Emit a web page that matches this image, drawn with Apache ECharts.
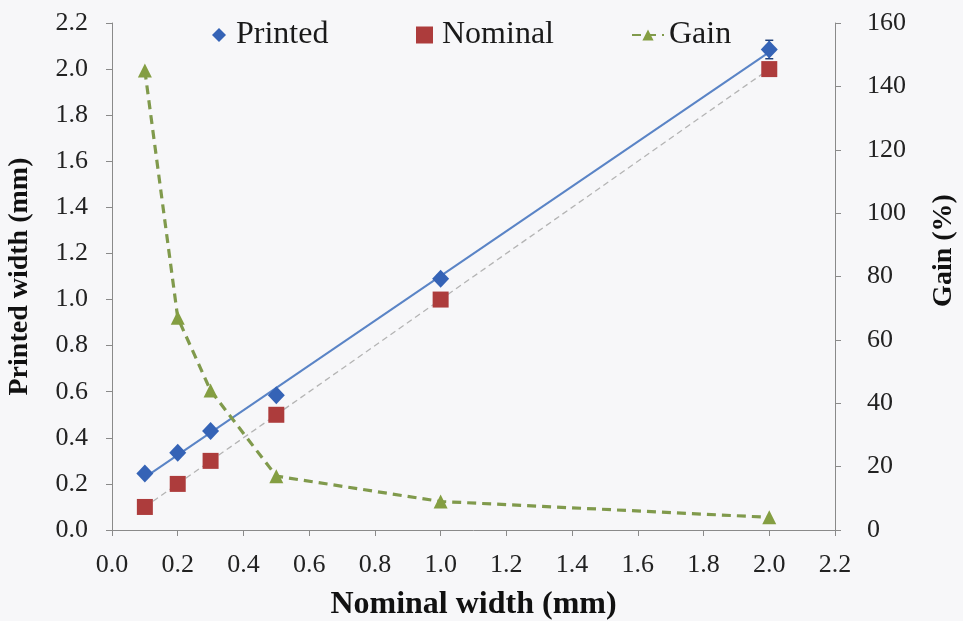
<!DOCTYPE html>
<html>
<head>
<meta charset="utf-8">
<script src="https://cdn.jsdelivr.net/npm/echarts@6/dist/echarts.min.js"></script>
<style>
  html, body { margin: 0; padding: 0; background: #f7f7f9; }
  #chart { width: 963px; height: 621px; }
</style>
</head>
<body>
<div id="chart"></div>
<script>
// Measured line widths: nominal vs printed, with the relative gain
const nominalWidths = [0.1, 0.2, 0.3, 0.5, 1.0, 2.0];
const printedWidths = [0.245, 0.335, 0.43, 0.585, 1.09, 2.085];
const printedError  = [0.01, 0.01, 0.012, 0.012, 0.015, 0.04];
const gainPercent   = [145, 67, 44, 17, 9, 4];

const xTickLabels = ['0.0','0.2','0.4','0.6','0.8','1.0','1.2','1.4','1.6','1.8','2.0','2.2'];
const gainTickLabels = ['0','20','40','60','80','100','120','140','160'];

const FONT = '"Liberation Serif", "Times New Roman", serif';

// least-squares linear trend through (xs, ys), drawn over the data's x span
function linearTrend(xs, ys) {
  const n = xs.length;
  const mx = xs.reduce((a, b) => a + b, 0) / n;
  const my = ys.reduce((a, b) => a + b, 0) / n;
  let sxy = 0, sxx = 0;
  for (let i = 0; i < n; i++) {
    sxy += (xs[i] - mx) * (ys[i] - my);
    sxx += (xs[i] - mx) * (xs[i] - mx);
  }
  const slope = sxy / sxx, icpt = my - slope * mx;
  const x0 = Math.min(...xs), x1 = Math.max(...xs);
  return [[x0, icpt + slope * x0], [x1, icpt + slope * x1]];
}

const printedPts = nominalWidths.map((x, i) => [x, printedWidths[i]]);
const nominalPts = nominalWidths.map(x => [x, x]);
const gainPts = nominalWidths.map((x, i) => [x, gainPercent[i]]);
const errorPts = nominalWidths.map((x, i) => [x, printedWidths[i] - printedError[i], printedWidths[i] + printedError[i]]);

const chart = echarts.init(document.getElementById('chart'));

const legendText = { fontFamily: FONT, fontSize: 32, color: '#1a1a1a' };
const axisColor = '#8a8a8a';
const tickFont = { fontFamily: FONT, fontSize: 26, color: '#222' };

chart.setOption({
  backgroundColor: '#f7f7f9',
  animation: false,
  grid: { left: 112, right: 128, top: 23, bottom: 91, containLabel: false, outerBoundsMode: 'none' },
  legend: [
    { data: ['Printed'], left: 207, top: 14, icon: 'diamond', itemWidth: 14, itemHeight: 14,
      textStyle: Object.assign({ padding: [0, 0, 0, 5] }, legendText) },
    { data: ['Nominal'], left: 411, top: 14, icon: 'rect', itemWidth: 17, itemHeight: 17,
      textStyle: Object.assign({ padding: [0, 0, 0, 4] }, legendText) },
    { data: ['Gain'], left: 626, top: 14, itemWidth: 32, itemHeight: 14,
      textStyle: Object.assign({ padding: [0, 0, 0, 0] }, legendText) }
  ],
  xAxis: {
    type: 'value', min: 0, max: 2.2, interval: 0.2,
    name: 'Nominal width (mm)', nameLocation: 'middle', nameGap: 59,
    nameTextStyle: { fontFamily: FONT, fontSize: 32, fontWeight: 'bold', color: '#111' },
    axisLine: { show: true, lineStyle: { color: axisColor, width: 1 } },
    axisTick: { show: true, length: 6, lineStyle: { color: axisColor } },
    splitLine: { show: false },
    axisLabel: Object.assign({
      margin: 22,
      formatter: v => xTickLabels[Math.round(v / 0.2)]
    }, tickFont)
  },
  yAxis: [
    {
      type: 'value', min: 0, max: 2.2, interval: 0.2, position: 'left',
      name: 'Printed width (mm)', nameLocation: 'middle', nameGap: 78, nameRotate: 90,
      nameTextStyle: { fontFamily: FONT, fontSize: 28, fontWeight: 'bold', color: '#111' },
      axisLine: { show: true, lineStyle: { color: axisColor, width: 1 } },
      axisTick: { show: true, length: 6, lineStyle: { color: axisColor } },
      splitLine: { show: false },
      axisLabel: Object.assign({
        margin: 24,
        formatter: v => xTickLabels[Math.round(v / 0.2)]
      }, tickFont)
    },
    {
      type: 'value', min: 0, max: 160, interval: 20, position: 'right',
      name: 'Gain (%)', nameLocation: 'middle', nameGap: 95, nameRotate: 90,
      nameTextStyle: { fontFamily: FONT, fontSize: 28, fontWeight: 'bold', color: '#111',
        padding: [0, 0, 0, 52] },
      axisLine: { show: true, lineStyle: { color: axisColor, width: 1 } },
      axisTick: { show: true, length: 6, lineStyle: { color: axisColor } },
      splitLine: { show: false },
      axisLabel: Object.assign({
        margin: 32,
        formatter: v => gainTickLabels[Math.round(v / 20)]
      }, tickFont)
    }
  ],
  series: [
    {
      name: 'Nominal trend', type: 'line', yAxisIndex: 0, data: linearTrend(nominalWidths, nominalWidths),
      symbol: 'none', silent: true, z: 1,
      lineStyle: { color: '#b4b4b4', width: 1.3, type: [6, 4] }
    },
    {
      name: 'Printed trend', type: 'line', yAxisIndex: 0, data: linearTrend(nominalWidths, printedWidths),
      symbol: 'none', silent: true, z: 1,
      lineStyle: { color: '#5a84c6', width: 2 }
    },
    {
      name: 'Printed error', type: 'custom', yAxisIndex: 0, z: 2,
      data: errorPts,
      encode: { x: 0, y: [1, 2] },
      renderItem: (params, api) => {
        const x = api.value(0);
        const lo = api.coord([x, api.value(1)]);
        const hi = api.coord([x, api.value(2)]);
        const c = 4;
        const st = { stroke: '#1f3f7a', lineWidth: 1.5 };
        return {
          type: 'group',
          children: [
            { type: 'line', shape: { x1: lo[0], y1: lo[1], x2: hi[0], y2: hi[1] }, style: st },
            { type: 'line', shape: { x1: hi[0] - c, y1: hi[1], x2: hi[0] + c, y2: hi[1] }, style: st },
            { type: 'line', shape: { x1: lo[0] - c, y1: lo[1], x2: lo[0] + c, y2: lo[1] }, style: st }
          ]
        };
      }
    },
    {
      name: 'Nominal', type: 'scatter', yAxisIndex: 0, data: nominalPts,
      symbol: 'rect', symbolSize: 16, z: 3,
      itemStyle: { color: '#ad3c3c', opacity: 1 }
    },
    {
      name: 'Printed', type: 'scatter', yAxisIndex: 0, data: printedPts,
      symbol: 'diamond', symbolSize: [17, 18], z: 4,
      itemStyle: { color: '#3563b6', opacity: 1 }
    },
    {
      name: 'Gain', type: 'line', yAxisIndex: 1, data: gainPts,
      symbol: 'triangle', symbolSize: 14, z: 5,
      lineStyle: { color: '#809a4c', width: 3.2, type: [9, 6] },
      itemStyle: { color: '#849e42' }
    }
  ]
});
</script>
</body>
</html>
